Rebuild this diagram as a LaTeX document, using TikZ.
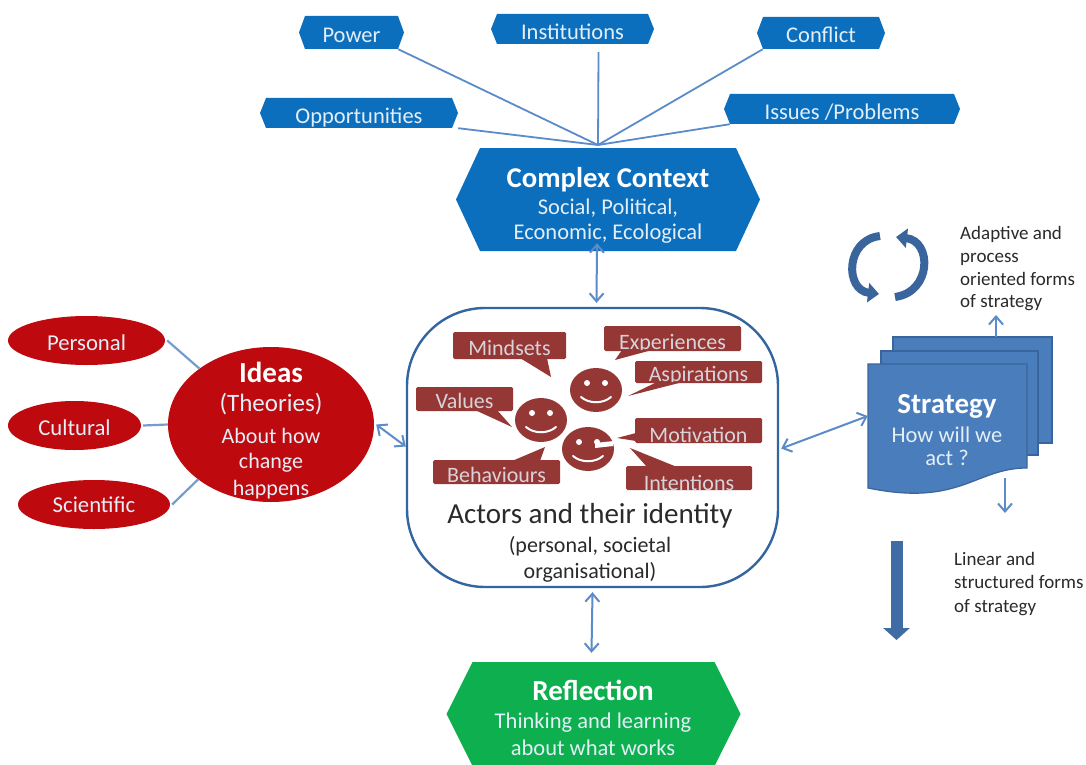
\documentclass[tikz,border=0pt]{standalone}
\usepackage{fontspec}
\setmainfont{Carlito}
\usetikzlibrary{arrows.meta,shapes.geometric}
\definecolor{ctxblue}{HTML}{0B6FBE}
\definecolor{ideared}{HTML}{BE0A0F}
\definecolor{bubred}{HTML}{953735}
\definecolor{refgreen}{HTML}{0DAF4F}
\definecolor{stratblue}{HTML}{4A7DBB}
\definecolor{stratdark}{HTML}{3A659C}
\definecolor{linkblue}{HTML}{5B8BC8}
\definecolor{boxblue}{HTML}{33659F}
\definecolor{softwhite}{HTML}{E4EEF7}
\definecolor{inktext}{HTML}{2A2A2A}
\newcommand{\fs}[1]{\fontsize{#1}{#1}\selectfont}
\newcommand{\low}[2]{\raisebox{-#1pt}[.73em][.07em]{#2}}
\newcommand{\hexa}[8]{%
  \fill[#7,shift={(#2,#3)}] ({-#4/2},0) -- ({-#4/2+#6},{-#5/2}) -- ({#4/2-#6},{-#5/2}) -- ({#4/2},0) -- ({#4/2-#6},{#5/2}) -- ({-#4/2+#6},{#5/2}) -- cycle;
  \node[hexnode,minimum width=#4,minimum height=#5] (#1) at (#2,#3) {#8};}
\newcommand{\bubble}[9]{%
  \node[bubblebox,minimum width=#4,minimum height=#5] (#1) at (#2,#3) {#6};
  \fill[bubred] #7 -- #8 -- #9 -- cycle;}
\newcommand{\face}[3]{%
  \node[facebody] (#1) at (#2,#3) {};
  \fill[white] (#2-9,#3-7) circle[radius=3];
  \fill[white] (#2+9,#3-7) circle[radius=3];
  \draw[white,line width=2,line cap=round] (#2-15,#3+7) .. controls (#2-7,#3+14) and (#2+7,#3+14) .. (#2+15,#3+7);}
\tikzset{
  hexnode/.style={inner sep=0pt,align=center,text=softwhite},
  stem/.style={draw=linkblue,line width=1.8},
  link/.style={draw=linkblue,line width=2,{Straight Barb[length=8pt,width=14pt]}-{Straight Barb[length=8pt,width=14pt]}},
  onelink/.style={draw=linkblue,line width=2,-{Straight Barb[length=8pt,width=14pt]}},
  redoval/.style={ellipse,fill=ideared,inner sep=0pt,text=softwhite,align=center},
  redstem/.style={draw=linkblue!85!white,line width=2.2},
  bubblebox/.style={fill=bubred,inner sep=0pt,text=softwhite!85!bubred,rounded corners=1.5pt,font=\fs{22}},
  facebody/.style={ellipse,fill=bubred,inner sep=0pt,minimum width=52,minimum height=44},
  page/.style={rectangle,fill=stratblue,draw=stratdark,line width=1.2,inner sep=0pt},
  note/.style={anchor=west,text=inktext,font=\fs{19},inner sep=0pt,text height=1.1em,text depth=0em},
  cyc/.style={draw=stratdark,line width=8,-{Triangle[length=11pt,width=19pt]}},
  lbl/.style={inner sep=0pt,text=softwhite,text height=1.1em,text depth=0em},
  ink/.style={inner sep=0pt,text=inktext,text height=1.1em,text depth=0em},
}
\begin{document}
\begin{tikzpicture}[x=1pt,y=-1pt]
\useasboundingbox[fill=white] (0,0) rectangle (1086,765);

% top connectors
\coordinate (hub) at (598,145);
\hexa{power}{351.5}{32.5}{105}{33}{6}{ctxblue}{\fs{22.5}\low{2.5}{Power}}
\hexa{inst}{572.5}{29}{163}{30}{6}{ctxblue}{\fs{22.5}\low{3}{Institutions}}
\hexa{conflict}{821}{33}{128}{32}{6}{ctxblue}{\fs{22.5}\low{2}{Conflict}}
\hexa{opp}{359}{113}{198}{30}{6}{ctxblue}{\fs{22.5}\low{3}{Opportunities}}
\hexa{issues}{842}{109}{236}{30}{6}{ctxblue}{\fs{22.5}\low{3}{Issues /Problems}}
\draw[stem] ([xshift=-6]power.south east) -- (hub);
\draw[stem] ([xshift=26,yshift=-8]inst.south) -- (hub);
\draw[stem] ([xshift=6]conflict.south west) -- (hub);
\draw[stem] (opp.south east) -- (hub);
\draw[stem] ([xshift=6]issues.south west) -- (hub);

% main hexagons
\hexa{complex}{608}{199.5}{304}{103}{24}{ctxblue}{}
\node[lbl,text=white,font=\fs{28.7}\bfseries] (ct) at (608,182) {Complex Context};
\node[lbl,font=\fs{22.5}] (cs) at (608,209) {Social, Political,};
\node[lbl,font=\fs{22.5}] (ce) at (608,234) {Economic, Ecological};
\hexa{reflect}{593.5}{714}{294}{104}{26}{refgreen}{}
\node[lbl,text=white,font=\fs{29}\bfseries] (rt) at (593,695) {Reflection};
\node[lbl,font=\fs{22.5}] (rs) at (593,723) {Thinking and learning};
\node[lbl,font=\fs{22.5}] (re) at (593,750) {about what works};

% ideas
\node[redoval,minimum width=157,minimum height=49,font=\fs{22.7}] (personal) at (86.5,340.5) {\low{3}{Personal}};
\node[redoval,minimum width=133,minimum height=49,font=\fs{22.7}] (cultural) at (74.5,425.5) {\low{2.5}{Cultural}};
\node[redoval,minimum width=152,minimum height=49,font=\fs{22.7}] (scientific) at (94,504.5) {\low{1}{Scientific}};
\node[redoval,minimum width=206,minimum height=155] (ideas) at (271,424.5) {};
\draw[redstem] ([xshift=2]personal.east) -- (ideas.142);
\draw[redstem] ([xshift=2]cultural.east) -- (ideas.west);
\draw[redstem] ([xshift=2]scientific.east) -- (ideas.217);
\node[lbl,text=white,font=\fs{29}\bfseries] (ideast) at (271,377) {Ideas};
\node[lbl,font=\fs{25}] (theories) at (271,406) {(Theories)};
\node[lbl,font=\fs{22}] (about) at (271,438) {About how};
\node[lbl,font=\fs{22}] (change) at (271,463) {change};
\node[lbl,font=\fs{22}] (happens) at (271,490) {happens};

% actors
\node[draw=boxblue,line width=2.4,rounded corners=78,fill=white,minimum width=371,minimum height=279,inner sep=0pt] (actors) at (592.5,447.5) {};
\bubble{mindsets}{509.5}{345.5}{113}{27}{\low{2.5}{Mindsets}}{(520,358)}{(551,377)}{(547,358)}
\bubble{experiences}{672.5}{338.5}{137}{25}{\low{3.5}{Experiences}}{(622,350)}{(615,360)}{(652,350)}
\bubble{aspirations}{698.5}{372}{127}{22}{\low{2}{Aspirations}}{(657,382)}{(628,396)}{(683,382)}
\bubble{values}{464.5}{399}{97}{24}{\low{2}{Values}}{(475,410)}{(512,427)}{(497,410)}
\bubble{behaviours}{496.5}{472}{127}{24}{\low{3}{Behaviours}}{(512,461)}{(545,447)}{(540,461)}
\bubble{motivation}{698.5}{430.5}{127}{25}{\low{4.5}{Motivation}}{(636,433)}{(617,438)}{(636,441)}
\bubble{intentions}{689}{478}{126}{24}{\low{5}{Intentions}}{(647,467)}{(630,448)}{(677,467)}
\face{faceA}{596}{390}
\face{faceB}{541}{420}
\face{faceC}{588}{449}
\fill[white] (614,441) -- (595,443) -- (595,448) -- (613,446) -- cycle;
\node[ink,font=\fs{29}] (actt) at (590,518) {Actors and their identity};
\node[ink,font=\fs{22}] (acts) at (590,547) {(personal, societal};
\node[ink,font=\fs{22}] (acto) at (590,573) {organisational)};

% strategy pages
\node[page,minimum width=159,minimum height=106] (pageback) at (972.5,390) {};
\node[page,minimum width=157,minimum height=104] (pagemid) at (959.5,403) {};
\coordinate (sa) at (868,364);
\coordinate (sb) at (1027,364);
\coordinate (sc) at (1027,468);
\coordinate (sd) at (868,488);
\fill[stratblue,draw=stratdark,line width=1.2] (sa) -- (sb) -- (sc) .. controls (975,468) and (960,507) .. (sd) -- cycle;
\node[inner sep=0pt,minimum width=159,minimum height=124] (strategy) at (947.5,426) {};
\node[lbl,text=white,font=\fs{29}\bfseries] (stratt) at (947,408) {Strategy};
\node[lbl,font=\fs{22.5}] (strath) at (947,437) {How will we};
\node[lbl,font=\fs{22.5}] (strata) at (947,460) {act ?};

% cycle arrows
\draw[cyc] (880,236) .. controls (845,240) and (845,290) .. (879,294);
\draw[cyc] (895,297) .. controls (932,292) and (932,241) .. (896,237);

% notes
\node[note] (n1) at (960,234) {Adaptive and};
\node[note] (n2) at (960,257) {process};
\node[note] (n3) at (960,280) {oriented forms};
\node[note] (n4) at (960,302) {of strategy};
\node[note] (n5) at (954,560) {Linear and};
\node[note] (n6) at (954,583) {structured forms};
\node[note] (n7) at (954,607) {of strategy};

% connectors
\coordinate (adaptend) at (996,315);
\coordinate (linstart) at (1005,478);
\coordinate (linend) at (1005,513);
\coordinate (barstart) at (896.5,541);
\coordinate (barend) at (896.5,640);
\draw[link] ([xshift=-11,yshift=8]complex.south) -- ([xshift=4,yshift=4]actors.north);
\draw[link] ([xshift=2]ideas.east) -- ([yshift=1]actors.west);
\draw[link] ([xshift=2,yshift=-1]actors.east) -- ([yshift=10]strategy.west);
\draw[link] ([yshift=-4]actors.south) -- ([yshift=9,xshift=-2]reflect.north);
\draw[onelink] (996,337) -- (adaptend);
\draw[onelink] (linstart) -- (linend);
\draw[draw=stratdark!70!stratblue,line width=12,-{Triangle[length=12pt,width=26pt]}] (barstart) -- (barend);
\end{tikzpicture}
\end{document}
